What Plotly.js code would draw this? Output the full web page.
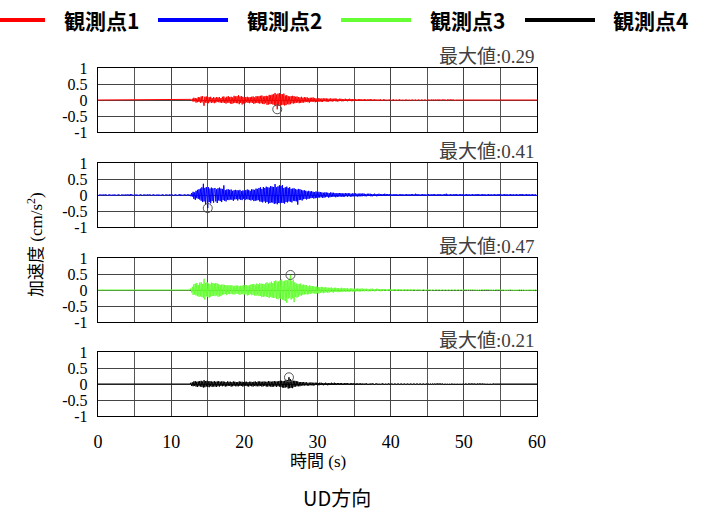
<!DOCTYPE html>
<html>
<head>
<meta charset="utf-8">
<script src="https://cdn.plot.ly/plotly-3.0.1.min.js"></script>
<style>html,body{margin:0;padding:0;background:#fff;}#chart{width:709px;height:512px;}</style>
</head>
<body>
<div id="chart"></div>
<script>
// Sampling interval of the records (s); samples run from 0 s to 60 s (10 per line = 1 s)
const dt = 0.1;

const seriesNames = ['観測点1', '観測点2', '観測点3', '観測点4'];
const seriesColors = ['#ff0000', '#0000ff', '#66ff33', '#000000'];

const xTickVals = [0, 10, 20, 30, 40, 50, 60];
const xTickLabels = ['0', '10', '20', '30', '40', '50', '60'];
const yTickVals = [-1, -0.5, 0, 0.5, 1];
const yTickLabels = ['-1', '-0.5', '0', '0.5', '1'];

// 観測点1 (UD) acceleration, cm/s^2
const accel1 = [
0,0,0,0,0,0,0,0,0,0,
0,0,0,0,0,0,0,0,0,0,
0,0,0,0,0,0,0,0,0,0,
0,0,0,0,0,0,0,0,0,0,
0,0,0,0,0,0,0,0,0,0,
0,0,0,0,0,0,0,0,0,0,
0,0,0,0,0,0,0,0,0,0,
0,0,0,0,0,0,0,0,0,0,
0,0,0,0,0,0,0,0,0,0,
0,0,0,0,0,0,0,0,0,0,
0,0,0,0,0,0,0,0,0,0,
0,0,0,0,0,0,0,0,0,0,
0,0,0,0,0,0,0,.02,-.03,.04,
-.05,.07,-.04,.06,-.08,.05,-.07,.09,-.06,.08,
-.09,.11,-.07,.12,-.10,-.18,.10,-.08,.11,-.09,
.08,-.10,.09,-.07,.10,-.09,.06,-.08,.09,-.10,
.07,-.08,.09,-.06,.08,-.07,.09,-.08,.06,-.09,
.10,-.08,.11,-.09,.07,-.11,.10,-.08,.12,-.09,
.09,-.11,.10,-.12,.08,-.10,.13,-.09,.11,-.10,
.12,-.10,.15,-.13,.11,-.09,.12,-.14,.10,-.11,
.08,-.10,.09,-.07,.10,-.09,.08,-.10,.09,-.08,
.10,-.09,.11,-.12,.08,-.10,.12,-.09,.11,-.10,
.12,-.11,.13,-.10,.14,-.12,.11,-.13,.12,-.10,
.13,-.15,.12,-.14,.16,-.13,.15,-.12,.17,-.14,
.18,-.16,.22,-.19,.17,-.29,.20,-.18,.21,-.17,
.19,-.16,.18,-.15,.20,-.17,.14,-.16,.15,-.13,
.12,-.14,.11,-.13,.12,-.10,.13,-.11,.12,-.10,
.10,-.09,.11,-.08,.09,-.10,.08,-.09,.10,-.08,
.07,-.08,.09,-.07,.08,-.06,.08,-.07,.06,-.08,
.07,-.06,.07,-.05,.08,-.06,.06,-.07,.05,-.06,
.06,-.05,.06,-.05,.04,-.06,.05,-.06,.05,-.04,
.05,-.04,.05,-.06,.04,-.05,.04,-.04,.05,-.04,
.04,-.05,.04,-.03,.05,-.04,.04,-.05,.03,-.04,
.04,-.03,.04,-.04,.03,-.04,.03,-.03,.04,-.03,
.03,-.04,.03,-.03,.04,-.03,.03,-.04,.03,-.03,
.03,-.02,.03,-.03,.02,-.03,.03,-.02,.03,-.02,
.02,-.03,.02,-.02,.03,-.02,.02,-.03,.02,-.02,
.02,-.02,.03,-.02,.02,-.02,.02,-.02,.02,-.02,
.02,-.02,.01,-.02,.02,-.01,.02,-.02,.01,-.02,
.02,-.01,.02,-.02,.01,-.02,.01,-.01,.02,-.01,
.01,-.02,.01,-.01,.02,-.01,.01,-.01,.01,-.02,
.01,-.01,.02,-.01,.01,-.01,.01,-.02,.01,-.01,
.01,-.01,.01,-.01,.01,-.02,.01,-.01,.01,-.01,
.01,-.01,.01,-.01,.01,-.01,.01,-.01,.01,-.01,
.01,-.01,.01,-.01,.01,-.01,.01,-.01,.01,-.01,
.01,-.01,.01,0,-.01,.01,-.01,0,.01,-.01,
0,.01,-.01,0,.01,-.01,0,.01,0,-.01,
.01,0,-.01,0,.01,0,-.01,.01,0,-.01,
0,.01,0,-.01,0,.01,0,0,-.01,0,
.01,0,0,-.01,0,0,.01,0,0,-.01,
0,0,0,0,0,0,0,0,0,0,
0,0,0,0,0,0,0,0,0,0,
0,0,0,0,0,0,0,0,0,0,
0,0,0,0,0,0,0,0,0,0,
0,0,0,0,0,0,0,0,0,0,
0,0,0,0,0,0,0,0,0,0,
0,0,0,0,0,0,0,0,0,0,
0,0,0,0,0,0,0,0,0,0,
0,0,0,0,0,0,0,0,0,0,
0,0,0,0,0,0,0,0,0,0,
0
];

// 観測点2 (UD)
const accel2 = [
.01,-.02,.01,-.01,.02,-.01,.01,-.02,.02,-.01,
.02,-.01,.01,-.02,.01,-.01,.02,-.01,.01,-.02,
.01,-.01,.02,-.02,.01,-.02,.01,-.01,.02,-.01,
.01,-.02,.01,-.01,.02,-.01,.01,-.02,.02,-.01,
.02,-.01,.01,-.02,.03,-.01,.02,-.01,.01,-.02,
.01,-.01,.02,-.02,.01,-.02,.01,-.01,.02,-.01,
.01,-.02,.01,-.01,.02,-.01,.01,-.02,.02,-.01,
.02,-.01,.01,-.02,.01,-.01,.02,-.01,.01,-.02,
.01,-.01,.02,-.02,.01,-.02,.01,-.01,.02,-.01,
.01,-.02,.01,-.01,.02,-.01,.01,-.02,.02,-.01,
.02,-.01,.01,-.02,.01,-.01,.02,-.01,.01,-.02,
.01,-.01,.03,-.02,.01,-.02,.01,-.01,.02,-.01,
.01,-.02,.02,-.01,.02,-.02,.01,-.04,.06,-.05,
.10,-.12,.08,-.15,.13,-.10,.16,-.12,.18,-.14,
.20,-.18,.24,-.22,.35,-.20,.22,-.30,.25,-.21,
-.41,.24,-.22,.20,-.26,.23,-.19,.21,-.24,.18,
.22,-.20,.18,-.25,.21,-.17,.23,-.19,.20,-.22,
.19,-.16,.30,-.18,.15,-.20,.17,-.15,.18,-.16,
.16,-.14,.17,-.15,.13,-.18,.15,-.14,.16,-.13,
.15,-.17,.14,-.13,.16,-.15,.12,-.16,.14,-.12,
.14,-.16,.15,-.13,.17,-.14,.16,-.15,.13,-.17,
.18,-.15,.17,-.19,.16,-.18,.20,-.17,.19,-.16,
.22,-.20,.24,-.21,.19,-.23,.25,-.20,.22,-.24,
.26,-.22,.24,-.27,.23,-.25,.28,-.23,.26,-.24,
.25,-.28,.34,-.26,.24,-.29,.27,-.25,.30,-.26,
.28,-.24,.31,-.25,.22,-.27,.24,-.22,.26,-.23,
.22,-.20,.24,-.21,.19,-.23,.20,-.18,.21,-.19,
.18,-.20,.17,-.30,.19,-.16,.18,-.15,.16,-.17,
.14,-.13,.15,-.12,.13,-.14,.11,-.12,.13,-.11,
.11,-.10,.12,-.09,.10,-.11,.09,-.10,.11,-.09,
.09,-.08,.10,-.08,.09,-.07,.08,-.09,.07,-.08,
.08,-.07,.08,-.06,.07,-.08,.06,-.07,.08,-.06,
.07,-.06,.07,-.05,.06,-.07,.05,-.06,.06,-.05,
.06,-.05,.06,-.05,.05,-.06,.05,-.05,.06,-.04,
.05,-.05,.06,-.04,.05,-.05,.04,-.05,.05,-.04,
.05,-.04,.05,-.04,.04,-.05,.04,-.04,.05,-.04,
.04,-.04,.05,-.03,.04,-.04,.03,-.04,.04,-.03,
.04,-.03,.04,-.04,.03,-.04,.03,-.03,.04,-.03,
.03,-.04,.03,-.03,.04,-.03,.03,-.03,.03,-.03,
.03,-.03,.04,-.03,.03,-.02,.03,-.03,.03,-.02,
.03,-.02,.02,-.03,.02,-.02,.03,-.02,.02,-.03,
.02,-.03,.02,-.02,.03,-.02,.02,-.03,.02,-.02,
.02,-.02,.03,-.02,.02,-.03,.02,-.02,.03,-.02,
.03,-.02,.02,-.03,.04,-.02,.03,-.02,.02,-.03,
.02,-.03,.02,-.02,.03,-.02,.02,-.03,.02,-.02,
.02,-.02,.03,-.02,.02,-.03,.02,-.02,.03,-.02,
.03,-.02,.02,-.03,.02,-.02,.03,-.02,.02,-.03,
.02,-.03,.02,-.02,.03,-.02,.04,-.03,.02,-.02,
.02,-.02,.03,-.02,.02,-.03,.02,-.02,.03,-.02,
.03,-.02,.02,-.03,.02,-.02,.03,-.02,.02,-.03,
.02,-.03,.02,-.02,.03,-.02,.02,-.03,.02,-.02,
.02,-.02,.03,-.02,.02,-.03,.02,-.02,.03,-.02,
.03,-.02,.02,-.03,.02,-.02,.03,-.02,.02,-.03,
.02,-.03,.02,-.02,.03,-.02,.02,-.03,.02,-.02,
.02,-.02,.03,-.02,.02,-.03,.02,-.02,.03,-.02,
.03,-.02,.02,-.03,.02,-.02,.03,-.02,.02,-.03,
.02,-.03,.02,-.02,.03,-.02,.02,-.03,.02,-.02,
.02,-.02,.03,-.02,.02,-.03,.02,-.02,.03,-.02,
.03,-.02,.02,-.03,.02,-.02,.03,-.02,.02,-.03,
.02,-.03,.02,-.02,.03,-.02,.02,-.03,.02,-.02,
.01
];

// 観測点3 (UD)
const accel3 = [
0,0,0,0,0,0,0,0,0,0,
0,0,0,0,0,0,0,0,0,0,
0,0,0,0,0,0,0,0,0,0,
0,0,0,0,0,0,0,0,0,0,
0,0,0,0,0,0,0,0,0,0,
0,0,0,0,0,0,0,0,0,0,
0,0,0,0,0,0,0,0,0,0,
0,0,0,0,0,0,0,0,0,0,
0,0,0,0,0,0,0,0,0,0,
0,0,0,0,0,0,0,0,0,0,
0,0,0,0,0,0,0,0,0,0,
0,0,0,0,0,0,0,0,0,0,
0,0,0,0,0,0,0,.05,-.08,.10,
-.15,.18,-.14,.20,-.17,.22,-.19,.16,-.21,.23,
-.20,.24,-.22,.19,-.25,.35,-.30,.22,-.20,.25,
-.22,.20,-.24,.18,-.21,.23,-.19,.22,-.18,.20,
-.19,.22,-.17,.20,-.21,.18,-.20,.16,-.19,.17,
-.15,.17,-.14,.16,-.13,.15,-.16,.14,-.12,.15,
-.13,.14,-.12,.15,-.13,.12,-.14,.13,-.11,.14,
-.12,.14,-.13,.12,-.15,.13,-.12,.14,-.13,.15,
-.14,.16,-.13,.15,-.17,.14,-.16,.15,-.13,.17,
-.16,.18,-.15,.19,-.17,.16,-.18,.20,-.16,.18,
-.19,.21,-.18,.20,-.22,.19,-.21,.18,-.20,.22,
-.21,.24,-.22,.20,-.25,.23,-.21,.26,-.24,.22,
-.25,.28,-.24,.30,-.27,.26,-.29,.27,-.25,.31,
-.28,.33,-.30,.27,-.32,.29,-.35,.31,-.40,.30,
-.27,.34,-.25,.47,-.30,.28,-.26,.32,-.38,.24,
-.22,.20,-.24,.18,-.21,.19,-.17,.20,-.18,.16,
-.15,.17,-.14,.16,-.13,.15,-.14,.12,-.13,.14,
-.12,.13,-.11,.12,-.10,.12,-.11,.10,-.12,.11,
-.10,.09,-.11,.08,-.09,.10,-.08,.09,-.10,.08,
-.08,.09,-.07,.08,-.09,.07,-.08,.07,-.06,.08,
-.07,.06,-.08,.07,-.06,.07,-.05,.06,-.07,.06,
-.06,.05,-.06,.07,-.05,.06,-.05,.05,-.06,.05,
-.05,.06,-.05,.04,-.06,.05,-.04,.05,-.05,.04,
-.05,.04,-.05,.04,-.04,.05,-.04,.04,-.05,.04,
-.04,.05,-.04,.03,-.04,.04,-.03,.04,-.04,.03,
-.04,.03,-.04,.04,-.03,.04,-.03,.03,-.04,.03,
-.03,.04,-.03,.03,-.03,.03,-.04,.03,-.03,.03,
-.03,.03,-.02,.03,-.03,.02,-.03,.03,-.02,.03,
-.03,.02,-.03,.02,-.02,.03,-.02,.02,-.03,.02,
-.02,.03,-.02,.02,-.02,.02,-.03,.02,-.02,.02,
-.02,.02,-.02,.02,-.02,.02,-.02,.02,-.02,.02,
-.02,.02,-.01,.02,-.02,.01,-.02,.02,-.01,.02,
-.02,.01,-.02,.01,-.01,.02,-.01,.01,-.02,.01,
-.01,.02,-.01,.01,-.01,.01,-.02,.01,-.01,.01,
-.01,.01,-.01,.01,-.01,.01,-.01,.01,-.01,.01,
-.01,.01,-.01,.01,-.01,.01,-.01,.01,-.01,.01,
-.01,.01,-.01,.01,-.01,.01,-.01,.01,-.01,.01,
-.01,.01,-.01,.01,-.01,.01,-.01,.01,-.01,.01,
-.01,.01,-.01,0,.01,-.01,.01,0,-.01,.01,
0,-.01,.01,0,-.01,.01,0,-.01,.01,0,
-.01,.01,0,-.01,.01,0,-.01,0,.01,-.01,
0,.01,-.01,0,.01,0,-.01,.01,0,-.01,
.01,0,-.01,.01,0,-.01,0,.01,-.01,0,
0,.01,-.01,0,.01,-.01,0,.01,0,-.01,
.01,0,-.01,0,.01,-.01,.01,0,-.01,0,
0,-.01,.01,0,-.01,0,.01,-.01,0,.01,
-.01,0,.01,-.01,0,.01,0,-.01,.01,0,
0,.01,0,-.01,.01,0,-.01,0,.01,-.01,
0
];

// 観測点4 (UD)
const accel4 = [
0,0,0,0,0,0,0,0,0,0,
0,0,0,0,0,0,0,0,0,0,
0,0,0,0,0,0,0,0,0,0,
0,0,0,0,0,0,0,0,0,0,
0,0,0,0,0,0,0,0,0,0,
0,0,0,0,0,0,0,0,0,0,
0,0,0,0,0,0,0,0,0,0,
0,0,0,0,0,0,0,0,0,0,
0,0,0,0,0,0,0,0,0,0,
0,0,0,0,0,0,0,0,0,0,
0,0,0,0,0,0,0,0,0,0,
0,0,0,0,0,0,0,0,0,0,
0,0,0,0,0,0,0,.04,-.06,.05,
-.07,.08,-.06,.09,-.08,.07,-.09,.08,-.07,.09,
-.08,.10,-.09,.08,-.11,.12,-.10,.09,-.08,.10,
-.09,.08,-.10,.09,-.07,.08,-.09,.07,-.08,.09,
-.08,.07,-.09,.08,-.07,.09,-.08,.07,-.06,.08,
-.07,.08,-.06,.07,-.08,.06,-.07,.08,-.06,.07,
-.06,.07,-.08,.06,-.07,.08,-.06,.07,-.07,.06,
-.07,.06,-.07,.08,-.06,.07,-.06,.07,-.08,.06,
-.06,.07,-.06,.07,-.07,.06,-.08,.07,-.06,.07,
-.07,.06,-.08,.07,-.06,.08,-.07,.06,-.07,.08,
-.07,.08,-.06,.07,-.08,.07,-.07,.08,-.06,.07,
-.08,.07,-.08,.09,-.07,.08,-.08,.07,-.09,.08,
-.08,.09,-.07,.08,-.09,.08,-.07,.09,-.08,.10,
-.09,.10,-.11,.09,-.12,.10,-.11,.13,-.10,.12,
-.14,.21,-.13,.15,-.12,.11,-.13,.10,-.09,.10,
-.08,.09,-.07,.08,-.07,.06,-.07,.06,-.05,.06,
-.05,.06,-.05,.05,-.04,.05,-.05,.04,-.05,.04,
-.04,.05,-.04,.04,-.05,.04,-.04,.04,-.03,.04,
-.04,.03,-.04,.04,-.03,.04,-.03,.03,-.04,.03,
-.03,.04,-.03,.03,-.04,.03,-.03,.03,-.03,.04,
-.03,.03,-.03,.04,-.03,.03,-.03,.03,-.02,.03,
-.03,.03,-.02,.03,-.03,.02,-.03,.03,-.02,.03,
-.02,.03,-.02,.02,-.03,.02,-.02,.03,-.02,.02,
-.02,.02,-.03,.02,-.02,.02,-.02,.02,-.02,.02,
-.02,.02,-.02,.01,-.02,.02,-.01,.02,-.02,.01,
-.02,.01,-.02,.02,-.01,.02,-.01,.01,-.02,.01,
-.01,.02,-.01,.01,-.02,.01,-.01,.01,-.01,.02,
-.01,.01,-.02,.01,-.01,.01,-.01,.02,-.01,.01,
-.01,.01,-.01,.01,-.01,.01,-.01,.01,-.01,.01,
-.01,.01,-.01,.01,-.01,.01,-.01,.01,-.01,.01,
-.01,.01,-.01,.01,-.01,.01,-.01,.01,-.01,.01,
-.01,.01,-.01,.01,-.01,.01,-.01,.01,-.01,.01,
-.01,.01,-.01,.01,-.01,.01,-.01,.01,-.01,.01,
-.01,.01,0,-.01,.01,0,-.01,.01,0,-.01,
.01,0,-.01,.01,0,-.01,0,.01,-.01,0,
0,.01,-.01,0,.01,0,-.01,.01,0,-.01,
.01,0,-.01,0,.01,-.01,0,.01,0,-.01,
0,.01,0,-.01,.01,0,-.01,0,.01,0,
0,-.01,.01,0,0,-.01,.01,0,-.01,0,
.01,0,-.01,0,.01,0,0,-.01,.01,0,
0,.01,0,-.01,0,.01,-.01,0,0,.01,
-.01,0,.01,0,-.01,0,.01,0,-.01,0,
0,.01,0,0,-.01,0,.01,0,0,-.01,
.01,0,0,-.01,0,.01,0,0,-.01,0,
0,-.01,0,.01,0,0,-.01,0,.01,0,
.01,0,-.01,0,0,.01,0,-.01,0,0,
0,-.01,0,0,.01,0,0,-.01,0,.01,
0,0,.01,0,-.01,0,0,.01,0,-.01,
0
];

const allSeries = [accel1, accel2, accel3, accel4];

// ---------- build figure ----------
const W = 709, H = 512;
const plotLeft = 98, plotRight = 537;
const frames = [[68, 132], [163, 227], [258, 322], [352, 416]]; // pixel top/bottom of each panel
const serif = 'Liberation Serif, "Noto Sans CJK JP", serif';
const sans = '"Noto Sans CJK JP", "Noto Sans", sans-serif';

const traces = [];
const annotations = [];
const shapes = [];
const layout = {
  width: W, height: H,
  margin: {l: 0, r: 0, t: 0, b: 0},
  paper_bgcolor: '#fff', plot_bgcolor: '#fff',
  showlegend: false,
  font: {family: serif, size: 16, color: '#000'}
};

allSeries.forEach((vals, k) => {
  const sfx = k === 0 ? '' : String(k + 1);
  const time = vals.map((_, i) => Math.round(i * dt * 10) / 10);
  traces.push({
    type: 'scatter', mode: 'lines', x: time, y: vals,
    xaxis: 'x' + sfx, yaxis: 'y' + sfx,
    line: {color: seriesColors[k], width: 1},
    name: seriesNames[k], hoverinfo: 'skip'
  });
  // peak marker
  let im = 0;
  vals.forEach((v, i) => { if (Math.abs(v) > Math.abs(vals[im])) im = i; });
  traces.push({
    type: 'scatter', mode: 'markers', x: [time[im]], y: [vals[im]],
    xaxis: 'x' + sfx, yaxis: 'y' + sfx,
    marker: {symbol: 'circle-open', size: 9, color: '#555', line: {width: 1, color: '#555'}},
    hoverinfo: 'skip'
  });
  const [top, bot] = frames[k];
  const dom = [(H - bot) / H, (H - top) / H];
  layout['xaxis' + sfx] = {
    domain: [plotLeft / W, plotRight / W], anchor: 'y' + sfx,
    range: [0, 60], tickvals: xTickVals, ticktext: xTickLabels,
    showticklabels: k === 3, ticks: '', ticklabelstandoff: 9,
    tickfont: {family: serif, size: 18, color: '#000'},
    showgrid: true, gridcolor: '#444', gridwidth: 1,
    minor: {tick0: 5, dtick: 10, showgrid: true, gridcolor: '#555', gridwidth: 1, ticks: ''},
    showline: true, mirror: true, linecolor: '#000', linewidth: 1.3,
    zeroline: false, fixedrange: true
  };
  layout['yaxis' + sfx] = {
    domain: dom, anchor: 'x' + sfx,
    range: [-1, 1], tickvals: yTickVals, ticktext: yTickLabels,
    ticks: '', ticklabelstandoff: 6,
    tickfont: {family: serif, size: 16, color: '#000'},
    showgrid: true, gridcolor: '#444', gridwidth: 1,
    showline: true, mirror: true, linecolor: '#000', linewidth: 1.3,
    zeroline: false, fixedrange: true
  };
  annotations.push({
    xref: 'paper', yref: 'paper', x: plotRight / W, y: dom[1],
    xanchor: 'right', yanchor: 'bottom', yshift: -1,
    text: '最大値:' + Math.abs(vals[im]).toFixed(2), showarrow: false,
    font: {family: serif, size: 19, color: '#404040'}
  });
});

// legend drawn across the top
const legendLineX = [[-30, 45], [158, 228], [341, 411], [525, 595]];
const legendTextX = [101, 284, 467, 650];
const legendY = 1 - 20 / H;
seriesNames.forEach((nm, k) => {
  shapes.push({
    type: 'line', xref: 'paper', yref: 'paper',
    x0: legendLineX[k][0] / W, x1: legendLineX[k][1] / W, y0: legendY, y1: legendY,
    line: {color: seriesColors[k], width: 4}
  });
  annotations.push({
    xref: 'paper', yref: 'paper', x: legendTextX[k] / W, y: legendY,
    xanchor: 'center', yanchor: 'middle', showarrow: false,
    text: '<b>' + nm + '</b>', font: {family: sans, size: 21, color: '#000'}
  });
});

// axis titles and chart title
annotations.push({
  xref: 'paper', yref: 'paper', x: (plotLeft + plotRight) / 2 / W, y: 1 - 461 / H,
  xanchor: 'center', yanchor: 'middle', showarrow: false,
  text: '時間 (s)', font: {family: serif, size: 17, color: '#000'}
});
annotations.push({
  xref: 'paper', yref: 'paper', x: 35 / W, y: 1 - 245 / H,
  xanchor: 'center', yanchor: 'middle', showarrow: false, textangle: -90,
  text: '加速度 (cm/s<sup>2</sup>)', font: {family: serif, size: 17, color: '#000'}
});
annotations.push({
  xref: 'paper', yref: 'paper', x: 337 / W, y: 1 - 497 / H,
  xanchor: 'center', yanchor: 'middle', showarrow: false,
  text: 'UD方向', font: {family: sans, size: 20, color: '#000'}
});

layout.annotations = annotations;
layout.shapes = shapes;

Plotly.newPlot('chart', traces, layout, {staticPlot: true, displayModeBar: false});
</script>
</body>
</html>
